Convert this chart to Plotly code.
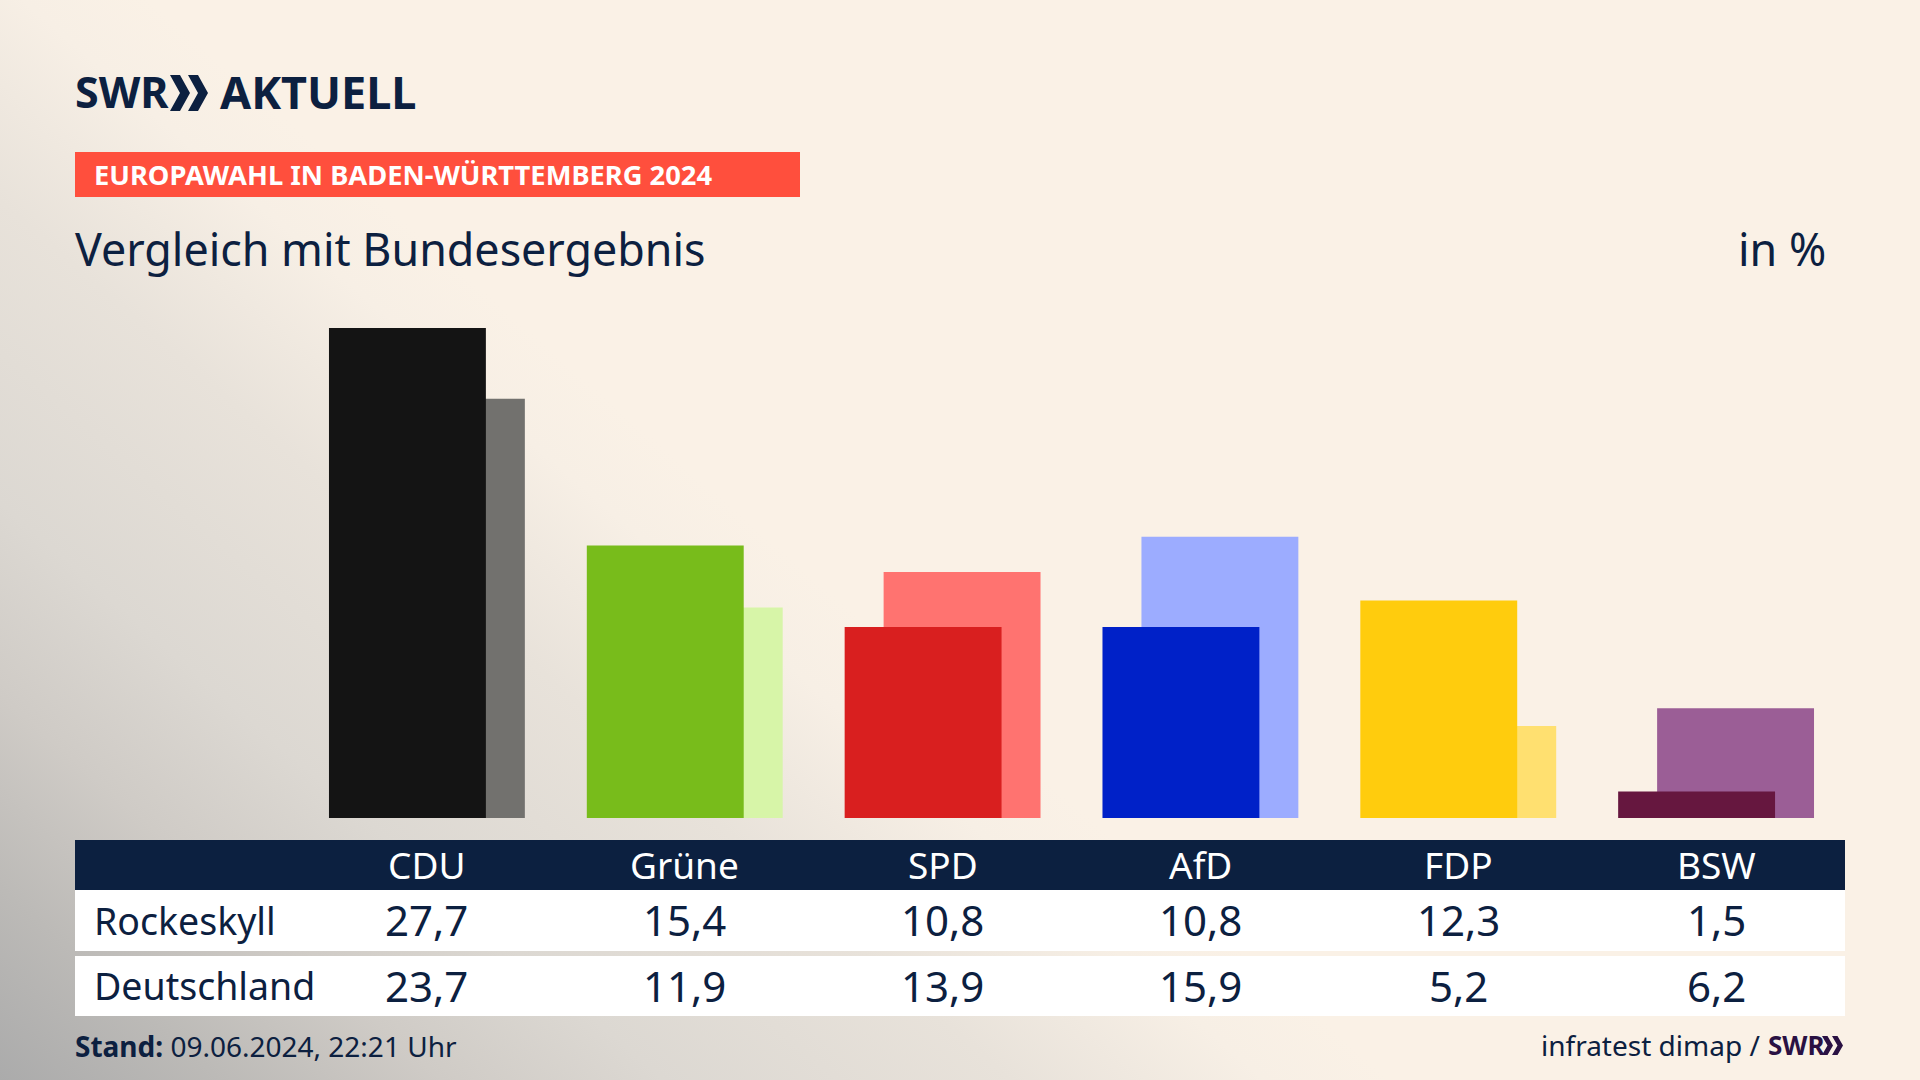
import plotly.graph_objects as go

parties = ["CDU", "Grüne", "SPD", "AfD", "FDP", "BSW"]
rockeskyll = [27.7, 15.4, 10.8, 10.8, 12.3, 1.5]
deutschland = [23.7, 11.9, 13.9, 15.9, 5.2, 6.2]
front_colors = ["#141414", "#78BC1B", "#D91F1F", "#0021C8", "#FFCC0D", "#66173F"]
back_colors = ["#72716E", "#D7F5A8", "#FF7370", "#9CACFF", "#FFE070", "#9B5E96"]

W = 1920
H = 1080
NAVY = "#0C2040"
FONT = "Noto Sans"

# the bars sit in this pixel box, everything else is placed on paper
BAR_W = 157 / 258
SHIFT = 19.5 / 258


def px(x):
    return x / W


def py(y):
    return 1 - y / H


def comma(v):
    return f"{v:.1f}".replace(".", ",")


def text(x, y, s, size, color=NAVY, anchor="left", xref="paper", family=FONT):
    if xref == "paper":
        x = px(x)
    return dict(x=x, y=py(y), xref=xref, yref="paper", text=s, showarrow=False,
                xanchor=anchor, yanchor="middle", borderpad=0, borderwidth=0,
                font=dict(family=family, size=size, color=color))


def rect(x0, y0, x1, y1, color):
    return dict(type="rect", xref="paper", yref="paper", x0=px(x0), x1=px(x1),
                y0=py(y0), y1=py(y1), fillcolor=color, line_width=0, layer="below")


def chevron(x0, w, top, bottom, color):
    mid = (top + bottom) / 2
    pts = [(x0, top), (x0 + w * 0.5, top), (x0 + w, mid), (x0 + w * 0.5, bottom),
           (x0, bottom), (x0 + w * 0.5, mid)]
    path = "M " + " L ".join(f"{px(a)} {py(b)}" for a, b in pts) + " Z"
    return dict(type="path", xref="paper", yref="paper", path=path,
                fillcolor=color, line_width=0)


fig = go.Figure()
fig.add_trace(go.Bar(x=parties, y=deutschland, name="Deutschland", width=BAR_W,
                     offset=-BAR_W / 2 + SHIFT, marker=dict(color=back_colors, line_width=0)))
fig.add_trace(go.Bar(x=parties, y=rockeskyll, name="Rockeskyll", width=BAR_W,
                     offset=-BAR_W / 2 - SHIFT, marker=dict(color=front_colors, line_width=0)))

shapes = [
    rect(75, 152, 800, 197, "#FF4F3D"),
    rect(75, 840, 1845, 890, NAVY),
    rect(75, 890, 1845, 951, "white"),
    rect(75, 956, 1845, 1016, "white"),
    chevron(170, 20, 75, 111, NAVY),
    chevron(188, 20, 75, 111, NAVY),
    chevron(1822, 11, 1036, 1055, "#2A1143"),
    chevron(1832, 11, 1036, 1055, "#2A1143"),
]

annotations = [
    text(75, 92, "<b>SWR</b>", 43),
    text(220, 92, "<b>AKTUELL</b>", 45),
    text(94, 175, "<b>EUROPAWAHL IN BADEN-WÜRTTEMBERG 2024</b>", 27.3, color="white"),
    text(75, 248, "Vergleich mit Bundesergebnis", 44.8),
    text(1826, 248, "in %", 44.8, anchor="right"),
    text(94, 920, "Rockeskyll", 37.5),
    text(94, 985, "Deutschland", 37.5),
    text(75, 1046, "<b>Stand:</b> 09.06.2024, 22:21 Uhr", 28),
    text(1760, 1045, "infratest dimap /", 28, anchor="right"),
    text(1768, 1045, "<b>SWR</b>", 26, color="#2A1143"),
]
for i, party in enumerate(parties):
    annotations.append(text(party, 864, party, 37, color="white", anchor="center", xref="x"))
    annotations.append(text(party, 919, comma(rockeskyll[i]), 42, anchor="center", xref="x"))
    annotations.append(text(party, 985, comma(deutschland[i]), 42, anchor="center", xref="x"))

fig.update_layout(
    width=W, height=H, autosize=False,
    margin=dict(l=0, r=0, t=0, b=0),
    paper_bgcolor="rgba(0,0,0,0)", plot_bgcolor="rgba(0,0,0,0)",
    barmode="overlay", showlegend=False,
    shapes=shapes, annotations=annotations,
    xaxis=dict(domain=[px(298), px(1845)], range=[-0.5, 5.5], visible=False,
               categoryorder="array", categoryarray=parties),
    yaxis=dict(domain=[py(818), py(287.3)], range=[0, 30], visible=False),
)

# no gradient in plotly layout, so it goes on the page behind the transparent figure
page = """
document.body.style.margin = '0';
document.body.style.overflow = 'hidden';
document.body.style.background = 'linear-gradient(41deg, #ababab 0%, #bcbab7 7%, #cfcbc6 14%, #dcd8d2 21%, #e8e2da 32%, #f7efe5 40%, #faf1e6 44%)';
document.body.style.minHeight = '1080px';
"""
fig.write_html("out.html", post_script=page, config=dict(displayModeBar=False))
